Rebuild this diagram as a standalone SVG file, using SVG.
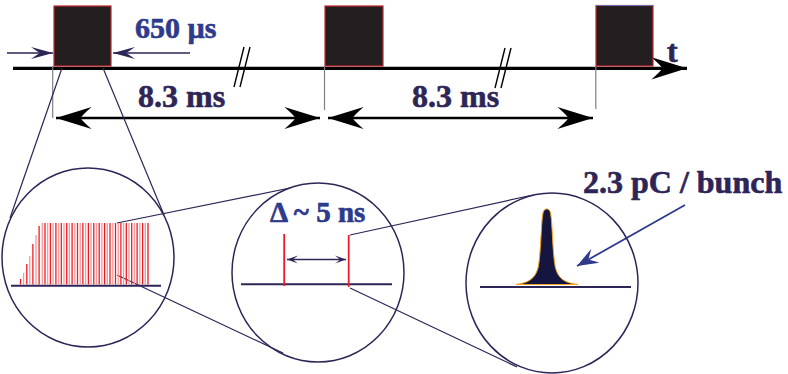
<svg xmlns="http://www.w3.org/2000/svg" width="788" height="374" viewBox="0 0 788 374">
<style>
.pulse{fill:#231f20;stroke:#c1272d;stroke-width:1.2}
.vline{stroke:#808080;stroke-width:1.2;fill:none}
.ring{fill:none;stroke:#2e2557;stroke-width:1.5}
.zoomline{fill:none;stroke:#2e2557;stroke-width:1.2}
.base{stroke:#2e2557;stroke-width:2;fill:none}
</style>
<defs>
<marker id="big" markerUnits="userSpaceOnUse" markerWidth="40" markerHeight="30" viewBox="-34 -12 36 24" refX="0" refY="0" orient="auto">
<path d="M0,0 L-32,-10 Q-24,-3 -22,0 Q-24,3 -32,10 Z" fill="#000"/>
</marker>
<marker id="bigs" markerUnits="userSpaceOnUse" markerWidth="40" markerHeight="30" viewBox="-34 -12 36 24" refX="0" refY="0" orient="auto-start-reverse">
<path d="M0,0 L-32,-10 Q-24,-3 -22,0 Q-24,3 -32,10 Z" fill="#000"/>
</marker>
<marker id="sm" markerUnits="userSpaceOnUse" markerWidth="26" markerHeight="16" viewBox="-24 -8 26 16" refX="0" refY="0" orient="auto">
<path d="M0,0 L-22,-6 Q-15,-1 -13,0 Q-15,1 -22,6 Z" fill="#2e2557"/>
</marker>
<marker id="tiny" markerUnits="userSpaceOnUse" markerWidth="14" markerHeight="10" viewBox="-12 -5 14 10" refX="0" refY="0" orient="auto-start-reverse">
<path d="M0,0 L-11,-4 Q-7,-1 -6,0 Q-7,1 -11,4 Z" fill="#2e2557"/>
</marker>
<marker id="bl" markerUnits="userSpaceOnUse" markerWidth="26" markerHeight="18" viewBox="-24 -9 26 18" refX="0" refY="0" orient="auto">
<path d="M0,0 L-21,-8 Q-14,-1 -13,0 Q-14,1 -21,8 Z" fill="#2e3a8c"/>
</marker>
</defs>

<g id="connectors">
<line x1="13" y1="68.3" x2="687" y2="68.3" stroke="#000" stroke-width="3.3" marker-end="url(#big)"/>
<path d="M234,87 L244,47 M240,87 L250,47" stroke="#000" stroke-width="1.4" fill="none"/>
<path d="M495,88 L505,48 M501,88 L511,48" stroke="#000" stroke-width="1.4" fill="none"/>
<line x1="52.7" y1="66" x2="52.7" y2="118" class="vline"/>
<line x1="324.5" y1="66" x2="324.5" y2="110" class="vline"/>
<line x1="595.8" y1="66" x2="595.8" y2="109" class="vline"/>
<line x1="56" y1="118" x2="320" y2="118" stroke="#000" stroke-width="2.4" marker-start="url(#bigs)" marker-end="url(#big)"/>
<line x1="328" y1="118" x2="593" y2="118" stroke="#000" stroke-width="2.4" marker-start="url(#bigs)" marker-end="url(#big)"/>
<line x1="7" y1="53" x2="53" y2="53" stroke="#2e2557" stroke-width="1.6" marker-end="url(#sm)"/>
<line x1="190" y1="53" x2="113" y2="53" stroke="#2e2557" stroke-width="1.6" marker-end="url(#sm)"/>
<line x1="62" y1="68" x2="10" y2="218" class="zoomline"/>
<line x1="103" y1="68" x2="164" y2="215" class="zoomline"/>
<line x1="117" y1="223" x2="290" y2="188" class="zoomline"/>
<line x1="117" y1="275" x2="283" y2="353" class="zoomline"/>
<line x1="350" y1="235" x2="533" y2="195" class="zoomline"/>
<line x1="350" y1="288" x2="517" y2="367" class="zoomline"/>
<line x1="685" y1="205" x2="577" y2="266" stroke="#2e3a8c" stroke-width="1.8" marker-end="url(#bl)"/>
</g>

<g id="pulse1"><rect x="54" y="6" width="57" height="60" class="pulse"/></g>
<g id="pulse2"><rect x="325" y="6" width="58" height="60" class="pulse"/></g>
<g id="pulse3"><rect x="596" y="5.5" width="57" height="60.5" class="pulse"/><line x1="596" y1="5.5" x2="653" y2="5.5" stroke="#6b6fb0" stroke-width="1.2"/></g>

<g id="labels-top" font-family="Liberation Serif, Times New Roman, serif" font-weight="700" stroke-width="0.6">
<text x="135" y="38" fill="#2e3a8c" stroke="#2e3a8c" font-size="30">650 µs</text>
<text x="138" y="107" fill="#2e2557" stroke="#2e2557" font-size="32">8.3 ms</text>
<text x="412" y="107" fill="#2e2557" stroke="#2e2557" font-size="32">8.3 ms</text>
<text x="667" y="62" fill="#2e2557" stroke="#2e2557" font-size="32">t</text>
</g>

<g id="zoom-train">
<ellipse cx="88" cy="257.5" rx="86" ry="89.5" class="ring"/>
<path d="M20.5,284.5V279M26.8,284.5V264M32.9,284.5V244M39.1,284.5V226M45,284.5V223M50.4,284.5V223M55.9,284.5V223M61.3,284.5V223M66.7,284.5V223M72.1,284.5V223M77.5,284.5V223M82.9,284.5V223M88.4,284.5V223M93.8,284.5V223M99.2,284.5V223M104.6,284.5V223M110,284.5V223M115.5,284.5V223M120.9,284.5V223M126.3,284.5V223M131.7,284.5V223M137.1,284.5V223M142.6,284.5V223M148,284.5V223" stroke="#ed1c24" stroke-width="1.3" fill="none"/>
<path d="M23.6,284.5V272.7M29.8,284.5V256M36,284.5V235M42.3,284.5V223M47.7,284.5V223M53.1,284.5V223M58.6,284.5V223M64,284.5V223M69.4,284.5V223M74.8,284.5V223M80.2,284.5V223M85.7,284.5V223M91.1,284.5V223M96.5,284.5V223M101.9,284.5V223M107.3,284.5V223M112.8,284.5V223M118.2,284.5V223M123.6,284.5V223M129,284.5V223M134.4,284.5V223M139.8,284.5V223M145.3,284.5V223" stroke="#f59a9c" stroke-width="1.3" fill="none"/>
<line x1="11" y1="285.7" x2="161" y2="285.7" class="base"/>
</g>

<g id="zoom-spacing">
<ellipse cx="318" cy="272.5" rx="86" ry="89.5" class="ring"/>
<line x1="241" y1="284.3" x2="392" y2="284.3" class="base"/>
<line x1="284.2" y1="234" x2="284.2" y2="286" stroke="#ed1c24" stroke-width="1.8"/>
<line x1="348.7" y1="235" x2="348.7" y2="287" stroke="#ed1c24" stroke-width="1.8"/>
<line x1="287" y1="259.5" x2="346" y2="259.5" stroke="#2e2557" stroke-width="1.3" marker-start="url(#tiny)" marker-end="url(#tiny)"/>
<text x="270" y="222" fill="#2e3a8c" stroke="#2e3a8c" stroke-width="0.6" font-size="29" font-family="Liberation Serif, Times New Roman, serif" font-weight="700">Δ ~ 5 ns</text>
</g>

<g id="zoom-bunch">
<ellipse cx="552" cy="283" rx="86" ry="90" class="ring"/>
<path d="M516,284.5 C528,283 535,279 538,268 C541,255 541,222 543,213 C544,207.5 549.5,207.5 550.5,213 C552.5,222 552.5,255 555.5,268 C558.5,279 565,283 578,284.5 Z" fill="#141640" stroke="#f7a11a" stroke-width="1"/>
<line x1="480" y1="287" x2="631" y2="287" class="base"/>
<text x="583" y="193" fill="#2e2557" stroke="#2e2557" stroke-width="0.6" font-size="32" font-family="Liberation Serif, Times New Roman, serif" font-weight="700">2.3 pC / bunch</text>
</g>
</svg>
